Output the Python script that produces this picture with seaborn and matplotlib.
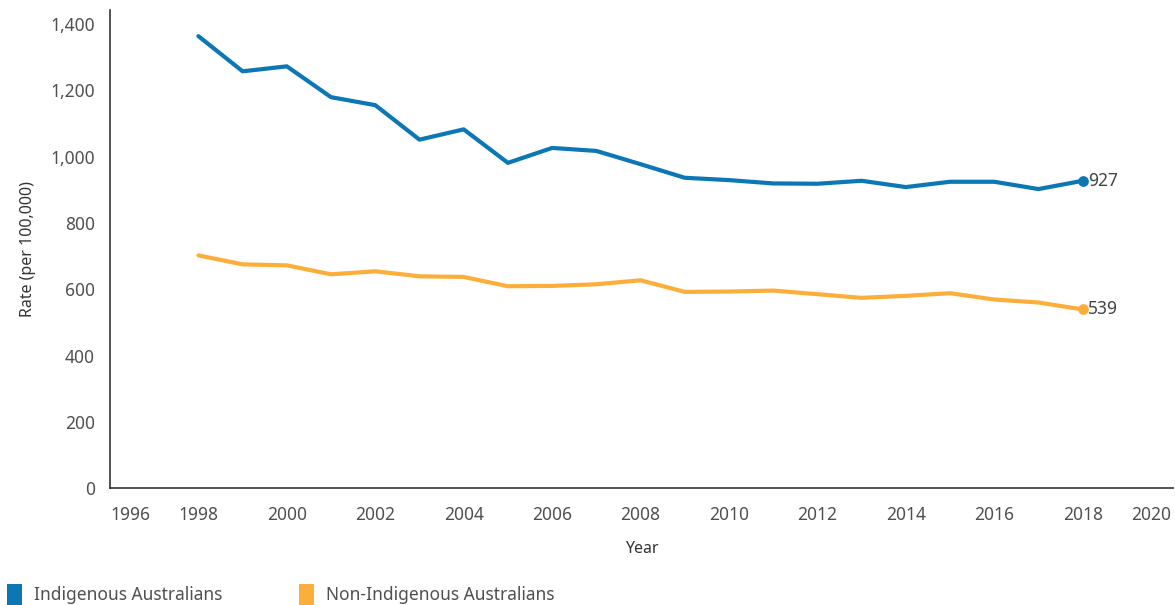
import matplotlib.pyplot as plt
import pandas as pd
import seaborn as sns
from matplotlib.patches import Patch


YEARS = list(range(1998, 2019))
INDIGENOUS = [1363, 1257, 1272, 1179, 1155, 1051, 1082, 981, 1026, 1017,
              977, 936, 929, 919, 918, 927, 908, 924, 924, 902, 927]
NON_INDIGENOUS = [702, 675, 672, 645, 654, 639, 637, 609, 610, 615,
                  627, 592, 593, 596, 585, 574, 580, 588, 569, 560, 539]
SERIES = ["Indigenous Australians", "Non-Indigenous Australians"]
COLORS = ["#0B77B5", "#FCAE3B"]
X_TICKS = list(range(1996, 2021, 2))
Y_TICKS = [0, 200, 400, 600, 800, 1000, 1200, 1400]

TEXT = "#505050"


def build_frame():
    df_ind = pd.DataFrame({"year": YEARS, "rate": INDIGENOUS, "group": SERIES[0]})
    df_non = pd.DataFrame({"year": YEARS, "rate": NON_INDIGENOUS, "group": SERIES[1]})
    return pd.concat([df_ind, df_non], ignore_index=True)


def main():
    sns.set_style("white")
    plt.rcParams["font.family"] = ["Noto Sans", "DejaVu Sans"]

    df = build_frame()
    fig = plt.figure(figsize=(11.75, 6.05), dpi=100)
    ax = fig.add_axes([0.0936, 0.193, 0.905, 0.79])

    palette = dict(zip(SERIES, COLORS))
    sns.lineplot(data=df, x="year", y="rate", hue="group", palette=palette,
                 linewidth=3, legend=False, ax=ax)

    # end-point markers and value labels
    for name, values in zip(SERIES, [INDIGENOUS, NON_INDIGENOUS]):
        ax.scatter([YEARS[-1]], [values[-1]], s=45, color=palette[name], zorder=5)
        ax.annotate(f"{values[-1]}", (YEARS[-1], values[-1]), xytext=(4, 0),
                    textcoords="offset points", va="center", ha="left",
                    fontsize=12.5, color="#444444")

    ax.set_xlim(1996, 2020.05)
    ax.set_ylim(0, 1441)
    ax.set_xticks(X_TICKS)
    ax.set_yticks(Y_TICKS)
    ax.set_yticklabels([f"{v:,}" for v in Y_TICKS])
    ax.tick_params(axis="both", which="both", direction="out", length=5, width=0.8,
                   color="#dddddd", labelcolor=TEXT, labelsize=12.5, pad=6)
    ax.tick_params(axis="x", pad=8)
    # keep the last year label inside the figure
    ax.get_xticklabels()[-1].set_horizontalalignment("right")
    ax.get_xticklabels()[0].set_horizontalalignment("left")

    ax.set_xlabel("Year", fontsize=11.5, color="#333333", labelpad=12)
    ax.set_ylabel("Rate (per 100,000)", fontsize=11.5, color="#333333", labelpad=10)

    for side in ["top", "right"]:
        ax.spines[side].set_visible(False)
    for side in ["left", "bottom"]:
        ax.spines[side].set_color("#333333")
        ax.spines[side].set_linewidth(1.2)

    handles = [Patch(facecolor=c, edgecolor="none") for c in COLORS]
    fig.legend(handles, SERIES, loc="lower left", bbox_to_anchor=(-0.007, -0.025),
               ncol=2, frameon=False, fontsize=12.5, handlelength=0.85,
               handleheight=1.4, handletextpad=0.7, columnspacing=4.4,
               labelcolor=TEXT)

    fig.savefig("out.png", dpi=100)
    plt.close(fig)


if __name__ == "__main__":
    main()
